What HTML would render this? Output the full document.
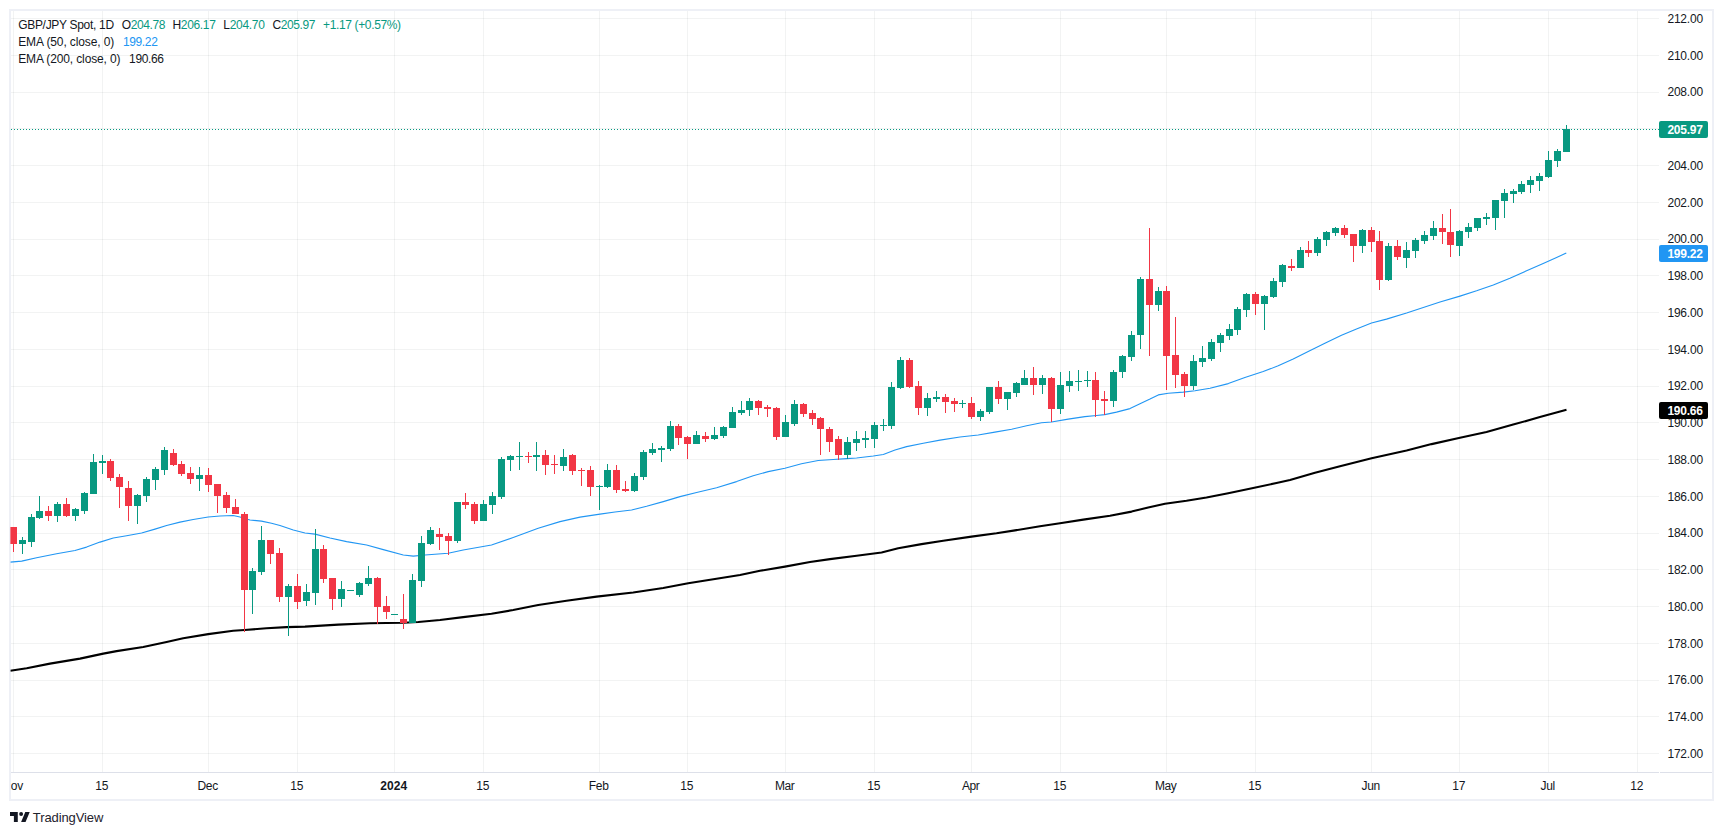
<!DOCTYPE html>
<html><head><meta charset="utf-8"><title>GBP/JPY Spot</title>
<style>
html,body{margin:0;padding:0;background:#fff;}
body{width:1723px;height:835px;position:relative;overflow:hidden;font-family:"Liberation Sans",sans-serif;font-size:12px;color:#131722;}
#frame{position:absolute;left:9px;top:9px;width:1701px;height:788px;border:2px solid #eef0f6;}
#chart{position:absolute;left:0;top:0;}
#chart rect{shape-rendering:crispEdges;}
#axline{position:absolute;left:11px;top:772px;width:1701px;height:1px;background:#dde0e9;}
.pl{position:absolute;left:1667.4px;width:40px;height:16px;line-height:16px;white-space:nowrap;letter-spacing:-0.184px;}
#taxis{position:absolute;left:11px;top:773px;width:1648px;height:26px;overflow:hidden;}
.tl{position:absolute;top:5px;width:80px;text-align:center;height:16px;line-height:16px;white-space:nowrap;letter-spacing:-0.35px;}
.b{font-weight:bold;letter-spacing:0.05px;}
.tag{position:absolute;left:1659px;width:49px;height:17px;border-radius:2px;color:#fff;font-weight:bold;line-height:19px;box-sizing:border-box;padding-left:8.4px;white-space:nowrap;letter-spacing:-0.251px;}
.lg{position:absolute;height:16px;line-height:16px;white-space:nowrap;}
.g{color:#089981;} .bl{color:#2196f3;}
#logo{position:absolute;left:10px;top:812px;}
#tv{position:absolute;left:32.8px;top:809px;font-size:13px;height:18px;line-height:18px;color:#1e222d;letter-spacing:-0.094px;}
</style></head><body>
<div id="frame"></div>
<svg id="chart" width="1723" height="835" viewBox="0 0 1723 835">
<defs><clipPath id="pane"><rect x="10.4" y="11" width="1649" height="761"/></clipPath></defs>
<g clip-path="url(#pane)">
<rect x="11" y="18" width="1648" height="1" fill="rgba(42,46,57,0.06)"/>
<rect x="11" y="55" width="1648" height="1" fill="rgba(42,46,57,0.06)"/>
<rect x="11" y="92" width="1648" height="1" fill="rgba(42,46,57,0.06)"/>
<rect x="11" y="128" width="1648" height="1" fill="rgba(42,46,57,0.06)"/>
<rect x="11" y="165" width="1648" height="1" fill="rgba(42,46,57,0.06)"/>
<rect x="11" y="202" width="1648" height="1" fill="rgba(42,46,57,0.06)"/>
<rect x="11" y="239" width="1648" height="1" fill="rgba(42,46,57,0.06)"/>
<rect x="11" y="275" width="1648" height="1" fill="rgba(42,46,57,0.06)"/>
<rect x="11" y="312" width="1648" height="1" fill="rgba(42,46,57,0.06)"/>
<rect x="11" y="349" width="1648" height="1" fill="rgba(42,46,57,0.06)"/>
<rect x="11" y="386" width="1648" height="1" fill="rgba(42,46,57,0.06)"/>
<rect x="11" y="422" width="1648" height="1" fill="rgba(42,46,57,0.06)"/>
<rect x="11" y="459" width="1648" height="1" fill="rgba(42,46,57,0.06)"/>
<rect x="11" y="496" width="1648" height="1" fill="rgba(42,46,57,0.06)"/>
<rect x="11" y="533" width="1648" height="1" fill="rgba(42,46,57,0.06)"/>
<rect x="11" y="569" width="1648" height="1" fill="rgba(42,46,57,0.06)"/>
<rect x="11" y="606" width="1648" height="1" fill="rgba(42,46,57,0.06)"/>
<rect x="11" y="643" width="1648" height="1" fill="rgba(42,46,57,0.06)"/>
<rect x="11" y="680" width="1648" height="1" fill="rgba(42,46,57,0.06)"/>
<rect x="11" y="716" width="1648" height="1" fill="rgba(42,46,57,0.06)"/>
<rect x="11" y="753" width="1648" height="1" fill="rgba(42,46,57,0.06)"/>
<rect x="13" y="11" width="1" height="761" fill="rgba(42,46,57,0.06)"/>
<rect x="102" y="11" width="1" height="761" fill="rgba(42,46,57,0.06)"/>
<rect x="208" y="11" width="1" height="761" fill="rgba(42,46,57,0.06)"/>
<rect x="297" y="11" width="1" height="761" fill="rgba(42,46,57,0.06)"/>
<rect x="394" y="11" width="1" height="761" fill="rgba(42,46,57,0.06)"/>
<rect x="483" y="11" width="1" height="761" fill="rgba(42,46,57,0.06)"/>
<rect x="599" y="11" width="1" height="761" fill="rgba(42,46,57,0.06)"/>
<rect x="687" y="11" width="1" height="761" fill="rgba(42,46,57,0.06)"/>
<rect x="785" y="11" width="1" height="761" fill="rgba(42,46,57,0.06)"/>
<rect x="874" y="11" width="1" height="761" fill="rgba(42,46,57,0.06)"/>
<rect x="971" y="11" width="1" height="761" fill="rgba(42,46,57,0.06)"/>
<rect x="1060" y="11" width="1" height="761" fill="rgba(42,46,57,0.06)"/>
<rect x="1166" y="11" width="1" height="761" fill="rgba(42,46,57,0.06)"/>
<rect x="1255" y="11" width="1" height="761" fill="rgba(42,46,57,0.06)"/>
<rect x="1371" y="11" width="1" height="761" fill="rgba(42,46,57,0.06)"/>
<rect x="1459" y="11" width="1" height="761" fill="rgba(42,46,57,0.06)"/>
<rect x="1548" y="11" width="1" height="761" fill="rgba(42,46,57,0.06)"/>
<rect x="1637" y="11" width="1" height="761" fill="rgba(42,46,57,0.06)"/>
<line x1="11" x2="1659" y1="129.5" y2="129.5" stroke="#089981" stroke-width="1" stroke-dasharray="1 2"/>
<path d="M10.30 562.10 L21.70 561.10 L36.60 557.80 L56.60 553.80 L75.00 550.50 L86.60 547.10 L100.00 542.10 L113.30 538.00 L126.60 535.80 L141.60 533.00 L155.00 529.10 L166.60 525.50 L180.00 522.10 L193.20 519.50 L208.20 517.00 L220.00 516.00 L233.20 515.50 L240.00 517.00 L250.00 520.00 L261.50 521.10 L271.50 523.30 L280.00 525.50 L293.30 530.00 L305.00 533.00 L315.00 534.10 L330.00 538.00 L346.60 541.60 L366.60 545.00 L383.30 549.60 L403.30 555.00 L413.30 556.10 L425.00 555.00 L448.20 553.30 L463.20 550.00 L491.50 545.00 L513.20 537.50 L538.20 528.30 L560.00 521.60 L580.00 517.10 L600.00 514.10 L615.00 512.00 L631.60 510.00 L646.60 506.30 L663.30 501.60 L680.00 496.60 L696.60 492.50 L716.60 487.80 L736.60 481.60 L753.20 475.80 L768.20 471.60 L784.90 468.30 L801.50 463.80 L818.20 460.50 L833.20 459.50 L846.50 458.60 L856.60 458.00 L873.30 456.00 L883.30 454.50 L895.00 450.00 L906.60 446.60 L923.30 443.30 L940.00 440.10 L960.00 437.00 L978.20 435.00 L994.90 432.10 L1011.60 429.30 L1026.60 425.80 L1041.50 422.80 L1051.50 422.00 L1068.20 419.10 L1084.90 416.60 L1096.50 415.50 L1104.80 414.60 L1116.50 412.10 L1130.00 408.60 L1140.00 403.80 L1150.00 399.10 L1158.30 394.90 L1168.30 393.30 L1183.30 392.10 L1195.00 390.80 L1210.00 388.30 L1228.30 383.60 L1244.90 377.50 L1263.20 371.60 L1278.20 365.80 L1293.20 359.10 L1308.20 351.60 L1324.90 343.30 L1341.50 335.30 L1356.50 329.10 L1371.50 323.00 L1386.50 319.10 L1406.60 313.00 L1423.30 307.50 L1440.00 302.10 L1460.00 296.10 L1476.60 290.80 L1493.30 285.00 L1509.90 278.30 L1526.60 270.80 L1543.20 263.60 L1556.60 257.50 L1566.30 253.00" fill="none" stroke="#2196f3" stroke-width="1.1" stroke-linejoin="round"/>
<path d="M10.30 670.80 L26.70 668.30 L50.00 663.60 L80.00 658.60 L103.30 653.60 L116.60 651.10 L143.20 647.00 L166.60 642.00 L183.20 638.30 L208.20 634.10 L233.20 630.80 L244.50 630.00 L266.50 628.30 L286.50 627.10 L305.00 626.60 L338.30 624.60 L370.00 623.30 L403.30 622.80 L418.30 622.00 L440.00 620.00 L463.20 617.10 L491.50 613.80 L513.20 610.00 L538.20 605.00 L566.50 600.80 L596.60 596.60 L633.20 592.50 L663.20 588.00 L688.20 583.30 L716.50 578.80 L740.00 575.00 L760.00 570.80 L785.00 566.60 L810.00 562.00 L830.00 559.10 L856.60 555.80 L881.60 552.50 L898.20 548.30 L921.50 544.10 L943.20 540.80 L971.50 536.60 L996.50 533.30 L1015.00 530.40 L1040.00 526.30 L1060.00 523.30 L1083.30 519.60 L1110.00 515.80 L1131.60 511.60 L1148.20 507.50 L1165.00 503.80 L1186.50 500.80 L1206.50 497.50 L1228.20 493.30 L1253.20 488.00 L1276.50 483.00 L1290.00 480.00 L1315.00 472.80 L1340.00 466.30 L1371.60 458.30 L1406.60 450.50 L1431.60 444.10 L1460.00 437.80 L1486.50 432.00 L1513.20 424.60 L1539.90 417.10 L1566.50 409.80" fill="none" stroke="#000" stroke-width="2.1" stroke-linejoin="round"/>
<rect x="13" y="527" width="1" height="25" fill="#f23645"/>
<rect x="10" y="527" width="7" height="17" fill="#f23645"/>
<rect x="22" y="537" width="1" height="17" fill="#089981"/>
<rect x="19" y="540" width="7" height="4" fill="#089981"/>
<rect x="31" y="514" width="1" height="33" fill="#089981"/>
<rect x="28" y="517" width="7" height="25" fill="#089981"/>
<rect x="39" y="496" width="1" height="23" fill="#089981"/>
<rect x="36" y="511" width="7" height="7" fill="#089981"/>
<rect x="48" y="506" width="1" height="15" fill="#f23645"/>
<rect x="45" y="511" width="7" height="5" fill="#f23645"/>
<rect x="57" y="502" width="1" height="20" fill="#089981"/>
<rect x="54" y="504" width="7" height="12" fill="#089981"/>
<rect x="66" y="498" width="1" height="19" fill="#f23645"/>
<rect x="63" y="504" width="7" height="12" fill="#f23645"/>
<rect x="75" y="508" width="1" height="13" fill="#089981"/>
<rect x="72" y="509" width="7" height="7" fill="#089981"/>
<rect x="84" y="492" width="1" height="22" fill="#089981"/>
<rect x="81" y="493" width="7" height="18" fill="#089981"/>
<rect x="93" y="454" width="1" height="40" fill="#089981"/>
<rect x="90" y="462" width="7" height="32" fill="#089981"/>
<rect x="102" y="455" width="1" height="19" fill="#089981"/>
<rect x="99" y="461" width="7" height="2" fill="#089981"/>
<rect x="110" y="459" width="1" height="22" fill="#f23645"/>
<rect x="107" y="461" width="7" height="17" fill="#f23645"/>
<rect x="119" y="474" width="1" height="34" fill="#f23645"/>
<rect x="116" y="477" width="7" height="10" fill="#f23645"/>
<rect x="128" y="481" width="1" height="40" fill="#f23645"/>
<rect x="125" y="488" width="7" height="18" fill="#f23645"/>
<rect x="137" y="494" width="1" height="30" fill="#089981"/>
<rect x="134" y="495" width="7" height="11" fill="#089981"/>
<rect x="146" y="477" width="1" height="25" fill="#089981"/>
<rect x="143" y="479" width="7" height="17" fill="#089981"/>
<rect x="155" y="467" width="1" height="23" fill="#089981"/>
<rect x="152" y="469" width="7" height="11" fill="#089981"/>
<rect x="164" y="447" width="1" height="28" fill="#089981"/>
<rect x="161" y="450" width="7" height="20" fill="#089981"/>
<rect x="173" y="449" width="1" height="17" fill="#f23645"/>
<rect x="170" y="453" width="7" height="12" fill="#f23645"/>
<rect x="181" y="461" width="1" height="15" fill="#f23645"/>
<rect x="178" y="464" width="7" height="10" fill="#f23645"/>
<rect x="190" y="467" width="1" height="17" fill="#f23645"/>
<rect x="187" y="473" width="7" height="6" fill="#f23645"/>
<rect x="199" y="467" width="1" height="24" fill="#089981"/>
<rect x="196" y="475" width="7" height="4" fill="#089981"/>
<rect x="208" y="468" width="1" height="24" fill="#f23645"/>
<rect x="205" y="475" width="7" height="10" fill="#f23645"/>
<rect x="217" y="484" width="1" height="29" fill="#f23645"/>
<rect x="214" y="484" width="7" height="12" fill="#f23645"/>
<rect x="226" y="492" width="1" height="21" fill="#f23645"/>
<rect x="223" y="495" width="7" height="13" fill="#f23645"/>
<rect x="235" y="499" width="1" height="15" fill="#f23645"/>
<rect x="232" y="507" width="7" height="7" fill="#f23645"/>
<rect x="244" y="512" width="1" height="120" fill="#f23645"/>
<rect x="241" y="514" width="7" height="76" fill="#f23645"/>
<rect x="252" y="568" width="1" height="46" fill="#089981"/>
<rect x="249" y="571" width="7" height="19" fill="#089981"/>
<rect x="261" y="526" width="1" height="49" fill="#089981"/>
<rect x="258" y="540" width="7" height="32" fill="#089981"/>
<rect x="270" y="540" width="1" height="24" fill="#f23645"/>
<rect x="267" y="540" width="7" height="14" fill="#f23645"/>
<rect x="279" y="548" width="1" height="54" fill="#f23645"/>
<rect x="276" y="553" width="7" height="44" fill="#f23645"/>
<rect x="288" y="584" width="1" height="52" fill="#089981"/>
<rect x="285" y="586" width="7" height="11" fill="#089981"/>
<rect x="297" y="574" width="1" height="35" fill="#f23645"/>
<rect x="294" y="586" width="7" height="16" fill="#f23645"/>
<rect x="306" y="584" width="1" height="22" fill="#089981"/>
<rect x="303" y="592" width="7" height="9" fill="#089981"/>
<rect x="315" y="529" width="1" height="76" fill="#089981"/>
<rect x="312" y="549" width="7" height="44" fill="#089981"/>
<rect x="323" y="545" width="1" height="38" fill="#f23645"/>
<rect x="320" y="549" width="7" height="30" fill="#f23645"/>
<rect x="332" y="578" width="1" height="32" fill="#f23645"/>
<rect x="329" y="578" width="7" height="21" fill="#f23645"/>
<rect x="341" y="581" width="1" height="26" fill="#089981"/>
<rect x="338" y="589" width="7" height="10" fill="#089981"/>
<rect x="350" y="590" width="1" height="1" fill="#089981"/>
<rect x="347" y="590" width="7" height="1" fill="#089981"/>
<rect x="359" y="582" width="1" height="15" fill="#089981"/>
<rect x="356" y="583" width="7" height="12" fill="#089981"/>
<rect x="368" y="566" width="1" height="20" fill="#089981"/>
<rect x="365" y="578" width="7" height="6" fill="#089981"/>
<rect x="377" y="577" width="1" height="47" fill="#f23645"/>
<rect x="374" y="578" width="7" height="29" fill="#f23645"/>
<rect x="386" y="596" width="1" height="23" fill="#f23645"/>
<rect x="383" y="606" width="7" height="6" fill="#f23645"/>
<rect x="394" y="614" width="1" height="1" fill="#089981"/>
<rect x="391" y="614" width="7" height="1" fill="#089981"/>
<rect x="403" y="594" width="1" height="35" fill="#f23645"/>
<rect x="400" y="619" width="7" height="4" fill="#f23645"/>
<rect x="412" y="574" width="1" height="49" fill="#089981"/>
<rect x="409" y="580" width="7" height="43" fill="#089981"/>
<rect x="421" y="536" width="1" height="51" fill="#089981"/>
<rect x="418" y="543" width="7" height="38" fill="#089981"/>
<rect x="430" y="527" width="1" height="18" fill="#089981"/>
<rect x="427" y="530" width="7" height="14" fill="#089981"/>
<rect x="439" y="528" width="1" height="22" fill="#f23645"/>
<rect x="436" y="534" width="7" height="3" fill="#f23645"/>
<rect x="448" y="533" width="1" height="22" fill="#f23645"/>
<rect x="445" y="536" width="7" height="5" fill="#f23645"/>
<rect x="457" y="502" width="1" height="41" fill="#089981"/>
<rect x="454" y="502" width="7" height="39" fill="#089981"/>
<rect x="465" y="493" width="1" height="16" fill="#f23645"/>
<rect x="462" y="502" width="7" height="3" fill="#f23645"/>
<rect x="474" y="502" width="1" height="22" fill="#f23645"/>
<rect x="471" y="504" width="7" height="17" fill="#f23645"/>
<rect x="483" y="500" width="1" height="21" fill="#089981"/>
<rect x="480" y="504" width="7" height="17" fill="#089981"/>
<rect x="492" y="492" width="1" height="22" fill="#089981"/>
<rect x="489" y="496" width="7" height="9" fill="#089981"/>
<rect x="501" y="457" width="1" height="42" fill="#089981"/>
<rect x="498" y="459" width="7" height="38" fill="#089981"/>
<rect x="510" y="455" width="1" height="16" fill="#089981"/>
<rect x="507" y="456" width="7" height="4" fill="#089981"/>
<rect x="519" y="442" width="1" height="28" fill="#089981"/>
<rect x="516" y="456" width="7" height="1" fill="#089981"/>
<rect x="528" y="452" width="1" height="11" fill="#f23645"/>
<rect x="525" y="456" width="7" height="1" fill="#f23645"/>
<rect x="536" y="442" width="1" height="29" fill="#089981"/>
<rect x="533" y="455" width="7" height="2" fill="#089981"/>
<rect x="545" y="450" width="1" height="25" fill="#f23645"/>
<rect x="542" y="455" width="7" height="10" fill="#f23645"/>
<rect x="554" y="455" width="1" height="19" fill="#f23645"/>
<rect x="551" y="464" width="7" height="1" fill="#f23645"/>
<rect x="563" y="449" width="1" height="22" fill="#089981"/>
<rect x="560" y="457" width="7" height="9" fill="#089981"/>
<rect x="572" y="454" width="1" height="21" fill="#f23645"/>
<rect x="569" y="455" width="7" height="16" fill="#f23645"/>
<rect x="581" y="468" width="1" height="18" fill="#f23645"/>
<rect x="578" y="470" width="7" height="1" fill="#f23645"/>
<rect x="590" y="466" width="1" height="30" fill="#f23645"/>
<rect x="587" y="470" width="7" height="17" fill="#f23645"/>
<rect x="599" y="485" width="1" height="25" fill="#089981"/>
<rect x="596" y="486" width="7" height="1" fill="#089981"/>
<rect x="607" y="464" width="1" height="24" fill="#089981"/>
<rect x="604" y="470" width="7" height="17" fill="#089981"/>
<rect x="616" y="465" width="1" height="28" fill="#f23645"/>
<rect x="613" y="470" width="7" height="20" fill="#f23645"/>
<rect x="625" y="481" width="1" height="11" fill="#f23645"/>
<rect x="622" y="489" width="7" height="2" fill="#f23645"/>
<rect x="634" y="473" width="1" height="19" fill="#089981"/>
<rect x="631" y="476" width="7" height="15" fill="#089981"/>
<rect x="643" y="450" width="1" height="30" fill="#089981"/>
<rect x="640" y="452" width="7" height="25" fill="#089981"/>
<rect x="652" y="443" width="1" height="12" fill="#089981"/>
<rect x="649" y="449" width="7" height="4" fill="#089981"/>
<rect x="661" y="446" width="1" height="16" fill="#089981"/>
<rect x="658" y="448" width="7" height="2" fill="#089981"/>
<rect x="670" y="421" width="1" height="30" fill="#089981"/>
<rect x="667" y="426" width="7" height="23" fill="#089981"/>
<rect x="678" y="424" width="1" height="21" fill="#f23645"/>
<rect x="675" y="426" width="7" height="12" fill="#f23645"/>
<rect x="687" y="436" width="1" height="23" fill="#f23645"/>
<rect x="684" y="437" width="7" height="7" fill="#f23645"/>
<rect x="696" y="431" width="1" height="13" fill="#089981"/>
<rect x="693" y="435" width="7" height="9" fill="#089981"/>
<rect x="705" y="432" width="1" height="10" fill="#f23645"/>
<rect x="702" y="436" width="7" height="3" fill="#f23645"/>
<rect x="714" y="427" width="1" height="13" fill="#089981"/>
<rect x="711" y="435" width="7" height="4" fill="#089981"/>
<rect x="723" y="426" width="1" height="12" fill="#089981"/>
<rect x="720" y="427" width="7" height="9" fill="#089981"/>
<rect x="732" y="407" width="1" height="21" fill="#089981"/>
<rect x="729" y="412" width="7" height="16" fill="#089981"/>
<rect x="741" y="401" width="1" height="14" fill="#089981"/>
<rect x="738" y="410" width="7" height="3" fill="#089981"/>
<rect x="749" y="398" width="1" height="18" fill="#089981"/>
<rect x="746" y="401" width="7" height="9" fill="#089981"/>
<rect x="758" y="400" width="1" height="15" fill="#f23645"/>
<rect x="755" y="401" width="7" height="7" fill="#f23645"/>
<rect x="767" y="405" width="1" height="12" fill="#f23645"/>
<rect x="764" y="407" width="7" height="2" fill="#f23645"/>
<rect x="776" y="407" width="1" height="33" fill="#f23645"/>
<rect x="773" y="408" width="7" height="29" fill="#f23645"/>
<rect x="785" y="415" width="1" height="22" fill="#089981"/>
<rect x="782" y="422" width="7" height="15" fill="#089981"/>
<rect x="794" y="400" width="1" height="26" fill="#089981"/>
<rect x="791" y="404" width="7" height="20" fill="#089981"/>
<rect x="803" y="403" width="1" height="14" fill="#f23645"/>
<rect x="800" y="404" width="7" height="10" fill="#f23645"/>
<rect x="812" y="410" width="1" height="15" fill="#f23645"/>
<rect x="809" y="413" width="7" height="6" fill="#f23645"/>
<rect x="820" y="417" width="1" height="38" fill="#f23645"/>
<rect x="817" y="418" width="7" height="11" fill="#f23645"/>
<rect x="829" y="427" width="1" height="25" fill="#f23645"/>
<rect x="826" y="429" width="7" height="13" fill="#f23645"/>
<rect x="838" y="436" width="1" height="24" fill="#f23645"/>
<rect x="835" y="439" width="7" height="16" fill="#f23645"/>
<rect x="847" y="437" width="1" height="22" fill="#089981"/>
<rect x="844" y="442" width="7" height="13" fill="#089981"/>
<rect x="856" y="431" width="1" height="20" fill="#089981"/>
<rect x="853" y="439" width="7" height="4" fill="#089981"/>
<rect x="865" y="431" width="1" height="17" fill="#089981"/>
<rect x="862" y="438" width="7" height="2" fill="#089981"/>
<rect x="874" y="422" width="1" height="26" fill="#089981"/>
<rect x="871" y="425" width="7" height="14" fill="#089981"/>
<rect x="883" y="419" width="1" height="12" fill="#089981"/>
<rect x="880" y="425" width="7" height="1" fill="#089981"/>
<rect x="891" y="382" width="1" height="47" fill="#089981"/>
<rect x="888" y="387" width="7" height="39" fill="#089981"/>
<rect x="900" y="357" width="1" height="32" fill="#089981"/>
<rect x="897" y="360" width="7" height="28" fill="#089981"/>
<rect x="909" y="358" width="1" height="30" fill="#f23645"/>
<rect x="906" y="360" width="7" height="27" fill="#f23645"/>
<rect x="918" y="381" width="1" height="34" fill="#f23645"/>
<rect x="915" y="386" width="7" height="22" fill="#f23645"/>
<rect x="927" y="393" width="1" height="23" fill="#089981"/>
<rect x="924" y="398" width="7" height="10" fill="#089981"/>
<rect x="936" y="391" width="1" height="11" fill="#089981"/>
<rect x="933" y="397" width="7" height="2" fill="#089981"/>
<rect x="945" y="394" width="1" height="19" fill="#f23645"/>
<rect x="942" y="397" width="7" height="5" fill="#f23645"/>
<rect x="954" y="398" width="1" height="14" fill="#f23645"/>
<rect x="951" y="401" width="7" height="3" fill="#f23645"/>
<rect x="962" y="400" width="1" height="8" fill="#089981"/>
<rect x="959" y="403" width="7" height="1" fill="#089981"/>
<rect x="971" y="397" width="1" height="22" fill="#f23645"/>
<rect x="968" y="403" width="7" height="14" fill="#f23645"/>
<rect x="980" y="409" width="1" height="12" fill="#089981"/>
<rect x="977" y="411" width="7" height="6" fill="#089981"/>
<rect x="989" y="387" width="1" height="27" fill="#089981"/>
<rect x="986" y="387" width="7" height="25" fill="#089981"/>
<rect x="998" y="381" width="1" height="23" fill="#f23645"/>
<rect x="995" y="387" width="7" height="12" fill="#f23645"/>
<rect x="1007" y="392" width="1" height="18" fill="#089981"/>
<rect x="1004" y="392" width="7" height="7" fill="#089981"/>
<rect x="1016" y="382" width="1" height="15" fill="#089981"/>
<rect x="1013" y="383" width="7" height="10" fill="#089981"/>
<rect x="1024" y="370" width="1" height="15" fill="#089981"/>
<rect x="1021" y="378" width="7" height="7" fill="#089981"/>
<rect x="1033" y="367" width="1" height="28" fill="#f23645"/>
<rect x="1030" y="378" width="7" height="7" fill="#f23645"/>
<rect x="1042" y="375" width="1" height="19" fill="#089981"/>
<rect x="1039" y="378" width="7" height="7" fill="#089981"/>
<rect x="1051" y="377" width="1" height="45" fill="#f23645"/>
<rect x="1048" y="378" width="7" height="31" fill="#f23645"/>
<rect x="1060" y="372" width="1" height="42" fill="#089981"/>
<rect x="1057" y="385" width="7" height="24" fill="#089981"/>
<rect x="1069" y="371" width="1" height="21" fill="#089981"/>
<rect x="1066" y="381" width="7" height="5" fill="#089981"/>
<rect x="1078" y="370" width="1" height="21" fill="#089981"/>
<rect x="1075" y="381" width="7" height="1" fill="#089981"/>
<rect x="1087" y="371" width="1" height="16" fill="#089981"/>
<rect x="1084" y="380" width="7" height="1" fill="#089981"/>
<rect x="1095" y="372" width="1" height="45" fill="#f23645"/>
<rect x="1092" y="380" width="7" height="20" fill="#f23645"/>
<rect x="1104" y="391" width="1" height="24" fill="#f23645"/>
<rect x="1101" y="399" width="7" height="2" fill="#f23645"/>
<rect x="1113" y="370" width="1" height="37" fill="#089981"/>
<rect x="1110" y="372" width="7" height="29" fill="#089981"/>
<rect x="1122" y="355" width="1" height="23" fill="#089981"/>
<rect x="1119" y="356" width="7" height="16" fill="#089981"/>
<rect x="1131" y="331" width="1" height="30" fill="#089981"/>
<rect x="1128" y="335" width="7" height="22" fill="#089981"/>
<rect x="1140" y="277" width="1" height="72" fill="#089981"/>
<rect x="1137" y="279" width="7" height="56" fill="#089981"/>
<rect x="1149" y="228" width="1" height="128" fill="#f23645"/>
<rect x="1146" y="279" width="7" height="26" fill="#f23645"/>
<rect x="1158" y="287" width="1" height="24" fill="#089981"/>
<rect x="1155" y="291" width="7" height="14" fill="#089981"/>
<rect x="1166" y="286" width="1" height="104" fill="#f23645"/>
<rect x="1163" y="291" width="7" height="65" fill="#f23645"/>
<rect x="1175" y="317" width="1" height="71" fill="#f23645"/>
<rect x="1172" y="355" width="7" height="20" fill="#f23645"/>
<rect x="1184" y="372" width="1" height="25" fill="#f23645"/>
<rect x="1181" y="374" width="7" height="12" fill="#f23645"/>
<rect x="1193" y="355" width="1" height="35" fill="#089981"/>
<rect x="1190" y="361" width="7" height="25" fill="#089981"/>
<rect x="1202" y="346" width="1" height="21" fill="#089981"/>
<rect x="1199" y="358" width="7" height="4" fill="#089981"/>
<rect x="1211" y="339" width="1" height="22" fill="#089981"/>
<rect x="1208" y="342" width="7" height="17" fill="#089981"/>
<rect x="1220" y="333" width="1" height="19" fill="#089981"/>
<rect x="1217" y="335" width="7" height="8" fill="#089981"/>
<rect x="1229" y="324" width="1" height="16" fill="#089981"/>
<rect x="1226" y="329" width="7" height="7" fill="#089981"/>
<rect x="1237" y="307" width="1" height="28" fill="#089981"/>
<rect x="1234" y="309" width="7" height="21" fill="#089981"/>
<rect x="1246" y="293" width="1" height="24" fill="#089981"/>
<rect x="1243" y="294" width="7" height="16" fill="#089981"/>
<rect x="1255" y="292" width="1" height="23" fill="#f23645"/>
<rect x="1252" y="294" width="7" height="10" fill="#f23645"/>
<rect x="1264" y="295" width="1" height="35" fill="#089981"/>
<rect x="1261" y="296" width="7" height="8" fill="#089981"/>
<rect x="1273" y="278" width="1" height="20" fill="#089981"/>
<rect x="1270" y="281" width="7" height="16" fill="#089981"/>
<rect x="1282" y="264" width="1" height="23" fill="#089981"/>
<rect x="1279" y="265" width="7" height="17" fill="#089981"/>
<rect x="1291" y="259" width="1" height="12" fill="#f23645"/>
<rect x="1288" y="266" width="7" height="2" fill="#f23645"/>
<rect x="1300" y="247" width="1" height="21" fill="#089981"/>
<rect x="1297" y="250" width="7" height="18" fill="#089981"/>
<rect x="1308" y="241" width="1" height="16" fill="#f23645"/>
<rect x="1305" y="250" width="7" height="3" fill="#f23645"/>
<rect x="1317" y="237" width="1" height="19" fill="#089981"/>
<rect x="1314" y="239" width="7" height="14" fill="#089981"/>
<rect x="1326" y="231" width="1" height="15" fill="#089981"/>
<rect x="1323" y="232" width="7" height="8" fill="#089981"/>
<rect x="1335" y="227" width="1" height="9" fill="#089981"/>
<rect x="1332" y="228" width="7" height="5" fill="#089981"/>
<rect x="1344" y="225" width="1" height="13" fill="#f23645"/>
<rect x="1341" y="228" width="7" height="7" fill="#f23645"/>
<rect x="1353" y="234" width="1" height="28" fill="#f23645"/>
<rect x="1350" y="234" width="7" height="12" fill="#f23645"/>
<rect x="1362" y="229" width="1" height="24" fill="#089981"/>
<rect x="1359" y="230" width="7" height="16" fill="#089981"/>
<rect x="1371" y="227" width="1" height="25" fill="#f23645"/>
<rect x="1368" y="230" width="7" height="12" fill="#f23645"/>
<rect x="1379" y="231" width="1" height="59" fill="#f23645"/>
<rect x="1376" y="241" width="7" height="39" fill="#f23645"/>
<rect x="1388" y="243" width="1" height="38" fill="#089981"/>
<rect x="1385" y="246" width="7" height="34" fill="#089981"/>
<rect x="1397" y="240" width="1" height="20" fill="#f23645"/>
<rect x="1394" y="246" width="7" height="11" fill="#f23645"/>
<rect x="1406" y="242" width="1" height="26" fill="#089981"/>
<rect x="1403" y="250" width="7" height="8" fill="#089981"/>
<rect x="1415" y="238" width="1" height="20" fill="#089981"/>
<rect x="1412" y="240" width="7" height="11" fill="#089981"/>
<rect x="1424" y="231" width="1" height="13" fill="#089981"/>
<rect x="1421" y="235" width="7" height="6" fill="#089981"/>
<rect x="1433" y="221" width="1" height="19" fill="#089981"/>
<rect x="1430" y="228" width="7" height="8" fill="#089981"/>
<rect x="1442" y="214" width="1" height="30" fill="#f23645"/>
<rect x="1439" y="228" width="7" height="4" fill="#f23645"/>
<rect x="1450" y="209" width="1" height="48" fill="#f23645"/>
<rect x="1447" y="232" width="7" height="13" fill="#f23645"/>
<rect x="1459" y="230" width="1" height="26" fill="#089981"/>
<rect x="1456" y="231" width="7" height="15" fill="#089981"/>
<rect x="1468" y="223" width="1" height="15" fill="#089981"/>
<rect x="1465" y="227" width="7" height="5" fill="#089981"/>
<rect x="1477" y="218" width="1" height="13" fill="#089981"/>
<rect x="1474" y="218" width="7" height="10" fill="#089981"/>
<rect x="1486" y="213" width="1" height="12" fill="#089981"/>
<rect x="1483" y="217" width="7" height="2" fill="#089981"/>
<rect x="1495" y="200" width="1" height="30" fill="#089981"/>
<rect x="1492" y="200" width="7" height="18" fill="#089981"/>
<rect x="1504" y="189" width="1" height="29" fill="#089981"/>
<rect x="1501" y="193" width="7" height="8" fill="#089981"/>
<rect x="1513" y="189" width="1" height="14" fill="#089981"/>
<rect x="1510" y="191" width="7" height="3" fill="#089981"/>
<rect x="1521" y="181" width="1" height="13" fill="#089981"/>
<rect x="1518" y="184" width="7" height="8" fill="#089981"/>
<rect x="1530" y="176" width="1" height="17" fill="#089981"/>
<rect x="1527" y="180" width="7" height="5" fill="#089981"/>
<rect x="1539" y="173" width="1" height="18" fill="#089981"/>
<rect x="1536" y="176" width="7" height="5" fill="#089981"/>
<rect x="1548" y="151" width="1" height="27" fill="#089981"/>
<rect x="1545" y="160" width="7" height="17" fill="#089981"/>
<rect x="1557" y="149" width="1" height="18" fill="#089981"/>
<rect x="1554" y="151" width="7" height="10" fill="#089981"/>
<rect x="1566" y="125" width="1" height="27" fill="#089981"/>
<rect x="1563" y="129" width="7" height="23" fill="#089981"/>
</g>
</svg>
<div id="axline"></div><div style="position:absolute;left:1659px;top:772px;width:1px;height:1px;background:#fff"></div>
<div class="pl" style="top:10.9px">212.00</div>
<div class="pl" style="top:47.6px">210.00</div>
<div class="pl" style="top:84.4px">208.00</div>
<div class="pl" style="top:121.2px">206.00</div>
<div class="pl" style="top:157.9px">204.00</div>
<div class="pl" style="top:194.7px">202.00</div>
<div class="pl" style="top:231.4px">200.00</div>
<div class="pl" style="top:268.1px">198.00</div>
<div class="pl" style="top:304.9px">196.00</div>
<div class="pl" style="top:341.6px">194.00</div>
<div class="pl" style="top:378.4px">192.00</div>
<div class="pl" style="top:415.1px">190.00</div>
<div class="pl" style="top:451.9px">188.00</div>
<div class="pl" style="top:488.6px">186.00</div>
<div class="pl" style="top:525.4px">184.00</div>
<div class="pl" style="top:562.1px">182.00</div>
<div class="pl" style="top:598.9px">180.00</div>
<div class="pl" style="top:635.6px">178.00</div>
<div class="pl" style="top:672.4px">176.00</div>
<div class="pl" style="top:709.1px">174.00</div>
<div class="pl" style="top:745.9px">172.00</div>
<div id="taxis">
<div class="tl" style="left:-38.3px">Nov</div>
<div class="tl" style="left:50.7px">15</div>
<div class="tl" style="left:156.7px">Dec</div>
<div class="tl" style="left:245.7px">15</div>
<div class="tl b" style="left:342.7px">2024</div>
<div class="tl" style="left:431.7px">15</div>
<div class="tl" style="left:547.7px">Feb</div>
<div class="tl" style="left:635.7px">15</div>
<div class="tl" style="left:733.7px">Mar</div>
<div class="tl" style="left:822.7px">15</div>
<div class="tl" style="left:919.7px">Apr</div>
<div class="tl" style="left:1008.7px">15</div>
<div class="tl" style="left:1114.7px">May</div>
<div class="tl" style="left:1203.7px">15</div>
<div class="tl" style="left:1319.7px">Jun</div>
<div class="tl" style="left:1407.7px">17</div>
<div class="tl" style="left:1496.7px">Jul</div>
<div class="tl" style="left:1585.7px">12</div>
</div>
<div class="tag" style="top:121px;background:#089981">205.97</div>
<div class="tag" style="top:245px;background:#2196f3">199.22</div>
<div class="tag" style="top:402px;background:#000">190.66</div>
<div class="lg " id="l1a" style="left:18.2px;top:17px;letter-spacing:-0.306px">GBP/JPY Spot, 1D</div>
<div class="lg " id="l1b" style="left:121.7px;top:17px;letter-spacing:-0.391px">O<span class="g">204.78</span></div>
<div class="lg " id="l1c" style="left:172.5px;top:17px;letter-spacing:-0.338px">H<span class="g">206.17</span></div>
<div class="lg " id="l1d" style="left:223.3px;top:17px;letter-spacing:-0.304px">L<span class="g">204.70</span></div>
<div class="lg " id="l1e" style="left:272.4px;top:17px;letter-spacing:-0.396px">C<span class="g">205.97</span></div>
<div class="lg g" id="l1f" style="left:323px;top:17px;letter-spacing:-0.355px">+1.17 (+0.57%)</div>
<div class="lg " id="l2a" style="left:18.2px;top:34px;letter-spacing:-0.113px">EMA (50, close, 0)</div>
<div class="lg bl" id="l2b" style="left:122.9px;top:34px;letter-spacing:-0.351px">199.22</div>
<div class="lg " id="l3a" style="left:18.2px;top:51px;letter-spacing:-0.132px">EMA (200, close, 0)</div>
<div class="lg " id="l3b" style="left:129.1px;top:51px;letter-spacing:-0.384px">190.66</div>
<svg id="logo" width="20" height="10" viewBox="0 0 36 18"><path fill="#131722" d="M14 18H7V7H0V0h14v18zM28 18h-8L27.5 0h8L28 18z"/><circle fill="#131722" cx="20" cy="3.5" r="3.5"/></svg>
<div id="tv">TradingView</div>
</body></html>
